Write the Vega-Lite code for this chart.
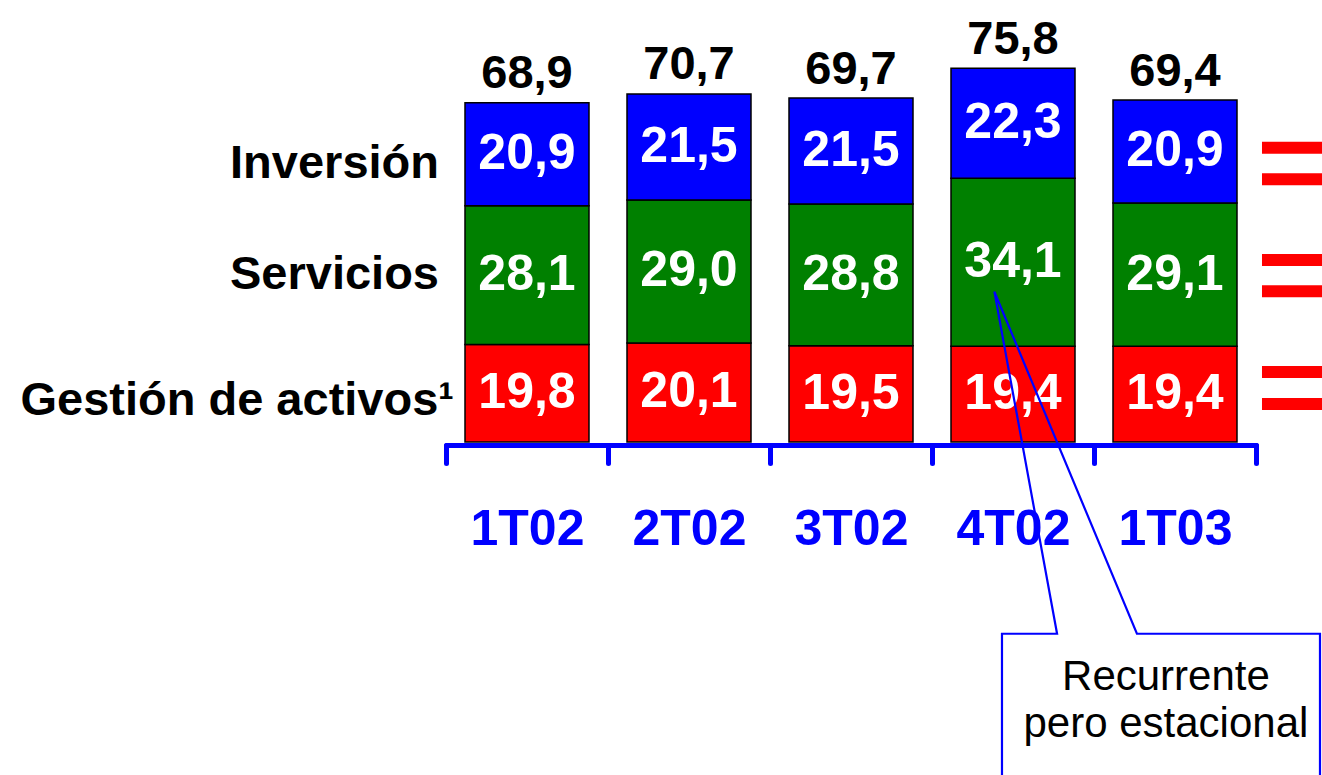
{
  "$schema": "https://vega.github.io/schema/vega-lite/v6.json",
  "width": 810,
  "height": 442,
  "autosize": {"type": "none"},
  "padding": {"left": 446, "top": 0, "right": 66, "bottom": 333},
  "background": "white",
  "config": {
    "view": {"stroke": null},
    "font": "Liberation Sans",
    "locale": {"number": {"decimal": ",", "thousands": ".", "grouping": [3], "currency": ["", " €"]}}
  },
  "datasets": {
    "segmentos": [
      {"trimestre": "1T02", "segmento": "Gestión de activos", "valor": 19.8},
      {"trimestre": "1T02", "segmento": "Servicios", "valor": 28.1},
      {"trimestre": "1T02", "segmento": "Inversión", "valor": 20.9},
      {"trimestre": "2T02", "segmento": "Gestión de activos", "valor": 20.1},
      {"trimestre": "2T02", "segmento": "Servicios", "valor": 29.0},
      {"trimestre": "2T02", "segmento": "Inversión", "valor": 21.5},
      {"trimestre": "3T02", "segmento": "Gestión de activos", "valor": 19.5},
      {"trimestre": "3T02", "segmento": "Servicios", "valor": 28.8},
      {"trimestre": "3T02", "segmento": "Inversión", "valor": 21.5},
      {"trimestre": "4T02", "segmento": "Gestión de activos", "valor": 19.4},
      {"trimestre": "4T02", "segmento": "Servicios", "valor": 34.1},
      {"trimestre": "4T02", "segmento": "Inversión", "valor": 22.3},
      {"trimestre": "1T03", "segmento": "Gestión de activos", "valor": 19.4},
      {"trimestre": "1T03", "segmento": "Servicios", "valor": 29.1},
      {"trimestre": "1T03", "segmento": "Inversión", "valor": 20.9}
    ],
    "totales": [
      {"trimestre": "1T02", "total": 68.9},
      {"trimestre": "2T02", "total": 70.7},
      {"trimestre": "3T02", "total": 69.7},
      {"trimestre": "4T02", "total": 75.8},
      {"trimestre": "1T03", "total": 69.4}
    ],
    "llamada": [
      {"px": 3.432, "py": -75, "paso": 1},
      {"px": 3.432, "py": -38.9, "paso": 2},
      {"px": 3.772, "py": -38.9, "paso": 3},
      {"px": 3.385, "py": 30.5, "paso": 4},
      {"px": 4.265, "py": -38.9, "paso": 5},
      {"px": 5.395, "py": -38.9, "paso": 6},
      {"px": 5.395, "py": -75, "paso": 7}
    ],
    "iguales": [
      {"segmento": "Inversión", "x1": 5.037, "x2": 5.6, "py": 59.7},
      {"segmento": "Inversión", "x1": 5.037, "x2": 5.6, "py": 53.3},
      {"segmento": "Servicios", "x1": 5.037, "x2": 5.6, "py": 36.9},
      {"segmento": "Servicios", "x1": 5.037, "x2": 5.6, "py": 30.6},
      {"segmento": "Gestión de activos", "x1": 5.037, "x2": 5.6, "py": 14.2},
      {"segmento": "Gestión de activos", "x1": 5.037, "x2": 5.6, "py": 7.7}
    ]
  },
  "resolve": {"scale": {"x": "independent", "y": "independent"}},
  "layer": [
    {
      "encoding": {
        "x": {
          "field": "trimestre",
          "type": "nominal",
          "sort": null,
          "scale": {"domain": ["1T02", "2T02", "3T02", "4T02", "1T03"], "paddingInner": 0, "paddingOuter": 0},
          "axis": {
            "title": null,
            "orient": "bottom",
            "offset": 3,
            "grid": false,
            "domainColor": "#0000FF",
            "domainWidth": 5,
            "domainCap": "round",
            "tickColor": "#0000FF",
            "tickWidth": 5,
            "tickSize": 18,
            "tickCap": "round",
            "tickBand": "extent",
            "labelColor": "#0000FF",
            "labelFont": "Liberation Sans",
            "labelFontSize": 50,
            "labelFontWeight": "bold",
            "labelPadding": 41,
            "labelAngle": 0
          }
        }
      },
      "layer": [
        {
          "data": {"name": "segmentos"},
          "transform": [
            {"calculate": "indexof(['Gestión de activos','Servicios','Inversión'], datum.segmento)", "as": "orden"},
            {"stack": "valor", "groupby": ["trimestre"], "sort": [{"field": "orden", "order": "ascending"}], "as": ["v0", "v1"]}
          ],
          "mark": {"type": "bar", "stroke": "black", "strokeWidth": 1.5, "width": {"band": 0.7654}},
          "encoding": {
            "y": {"field": "v0", "type": "quantitative", "scale": {"domain": [0, 89.66], "nice": false, "zero": false}, "axis": null},
            "y2": {"field": "v1"},
            "color": {
              "field": "segmento",
              "type": "nominal",
              "scale": {"domain": ["Gestión de activos", "Servicios", "Inversión"], "range": ["#FF0000", "#008000", "#0000FF"]},
              "legend": null
            }
          }
        },
        {
          "data": {"name": "segmentos"},
          "transform": [
            {"calculate": "indexof(['Gestión de activos','Servicios','Inversión'], datum.segmento)", "as": "orden"},
            {"stack": "valor", "groupby": ["trimestre"], "sort": [{"field": "orden", "order": "ascending"}], "as": ["v0", "v1"]},
            {"calculate": "(datum.v0 + datum.v1) / 2", "as": "vmid"}
          ],
          "mark": {"type": "text", "color": "white", "fontSize": 50, "fontWeight": "bold", "baseline": "middle", "font": "Liberation Sans"},
          "encoding": {
            "y": {"field": "vmid", "type": "quantitative", "scale": {"domain": [0, 89.66], "nice": false, "zero": false}, "axis": null},
            "text": {"field": "valor", "type": "quantitative", "format": ".1f"}
          }
        },
        {
          "data": {"name": "segmentos"},
          "transform": [
            {"calculate": "indexof(['Gestión de activos','Servicios','Inversión'], datum.segmento)", "as": "orden"},
            {"stack": "valor", "groupby": ["trimestre"], "sort": [{"field": "orden", "order": "ascending"}], "as": ["v0", "v1"]},
            {"calculate": "(datum.v0 + datum.v1) / 2", "as": "vmid"},
            {"filter": "datum.trimestre === '1T02' && datum.segmento === 'Inversión'"}
          ],
          "mark": {"type": "text", "color": "black", "fontSize": 47, "fontWeight": "bold", "baseline": "middle", "align": "right", "dx": -88, "dy": 10, "font": "Liberation Sans"},
          "encoding": {
            "y": {"field": "vmid", "type": "quantitative", "scale": {"domain": [0, 89.66], "nice": false, "zero": false}, "axis": null},
            "text": {"field": "segmento", "type": "nominal"}
          }
        },
        {
          "data": {"name": "segmentos"},
          "transform": [
            {"calculate": "indexof(['Gestión de activos','Servicios','Inversión'], datum.segmento)", "as": "orden"},
            {"stack": "valor", "groupby": ["trimestre"], "sort": [{"field": "orden", "order": "ascending"}], "as": ["v0", "v1"]},
            {"calculate": "(datum.v0 + datum.v1) / 2", "as": "vmid"},
            {"filter": "datum.trimestre === '1T02' && datum.segmento === 'Servicios'"}
          ],
          "mark": {"type": "text", "color": "black", "fontSize": 47, "fontWeight": "bold", "baseline": "middle", "align": "right", "dx": -88, "dy": 0, "font": "Liberation Sans"},
          "encoding": {
            "y": {"field": "vmid", "type": "quantitative", "scale": {"domain": [0, 89.66], "nice": false, "zero": false}, "axis": null},
            "text": {"field": "segmento", "type": "nominal"}
          }
        },
        {
          "data": {"name": "segmentos"},
          "transform": [
            {"calculate": "indexof(['Gestión de activos','Servicios','Inversión'], datum.segmento)", "as": "orden"},
            {"stack": "valor", "groupby": ["trimestre"], "sort": [{"field": "orden", "order": "ascending"}], "as": ["v0", "v1"]},
            {"calculate": "(datum.v0 + datum.v1) / 2", "as": "vmid"},
            {"filter": "datum.trimestre === '1T02' && datum.segmento === 'Gestión de activos'"}
          ],
          "mark": {"type": "text", "color": "black", "fontSize": 47, "fontWeight": "bold", "baseline": "middle", "align": "right", "dx": -73, "dy": 8, "font": "Liberation Sans"},
          "encoding": {
            "y": {"field": "vmid", "type": "quantitative", "scale": {"domain": [0, 89.66], "nice": false, "zero": false}, "axis": null},
            "text": {"value": "Gestión de activos¹"}
          }
        },
        {
          "data": {"name": "totales"},
          "mark": {"type": "text", "color": "black", "fontSize": 47, "fontWeight": "bold", "baseline": "alphabetic", "dy": -14, "font": "Liberation Sans"},
          "encoding": {
            "y": {"field": "total", "type": "quantitative", "scale": {"domain": [0, 89.66], "nice": false, "zero": false}, "axis": null},
            "text": {"field": "total", "type": "quantitative", "format": ".1f"}
          }
        }
      ]
    },
    {
      "layer": [
        {
          "data": {"name": "iguales"},
          "mark": {"type": "rule", "color": "#FF0000", "strokeWidth": 12, "strokeCap": "butt"},
          "encoding": {
            "x": {"field": "x1", "type": "quantitative", "scale": {"domain": [0, 5], "nice": false, "zero": false}, "axis": null},
            "x2": {"field": "x2"},
            "y": {"field": "py", "type": "quantitative", "scale": {"domain": [0, 89.66], "nice": false, "zero": false}, "axis": null}
          }
        },
        {
          "data": {"name": "llamada"},
          "mark": {"type": "line", "color": "#0000FF", "strokeWidth": 2.2, "strokeJoin": "miter"},
          "encoding": {
            "x": {"field": "px", "type": "quantitative", "scale": {"domain": [0, 5], "nice": false, "zero": false}, "axis": null},
            "y": {"field": "py", "type": "quantitative", "scale": {"domain": [0, 89.66], "nice": false, "zero": false}, "axis": null},
            "order": {"field": "paso", "type": "quantitative"}
          }
        },
        {
          "data": {"values": [{"texto": "Recurrente\npero estacional"}]},
          "mark": {"type": "text", "color": "black", "fontSize": 42, "fontWeight": "normal", "baseline": "alphabetic", "align": "center", "lineBreak": "\n", "lineHeight": 47, "font": "Liberation Sans"},
          "encoding": {
            "x": {"datum": 4.444, "type": "quantitative", "scale": {"domain": [0, 5], "nice": false, "zero": false}, "axis": null},
            "y": {"datum": -50.3, "type": "quantitative", "scale": {"domain": [0, 89.66], "nice": false, "zero": false}, "axis": null},
            "text": {"field": "texto", "type": "nominal"}
          }
        }
      ]
    }
  ]
}
